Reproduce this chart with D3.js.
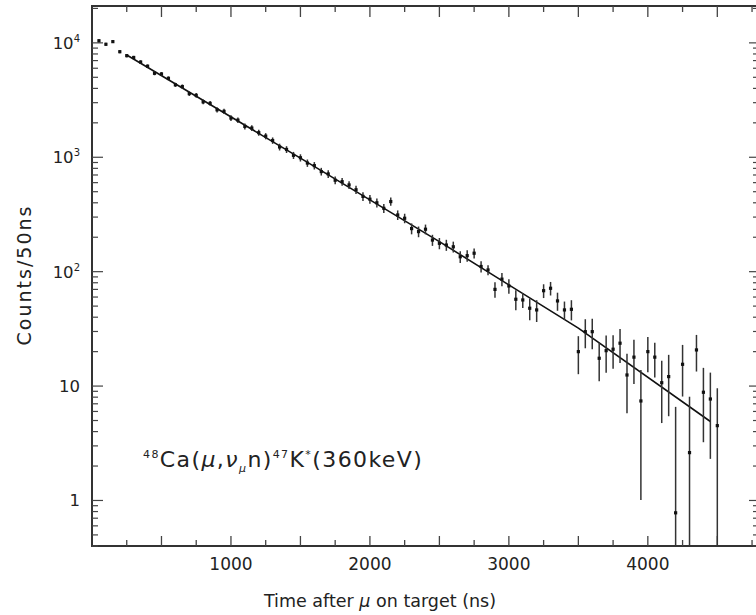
<!DOCTYPE html>
<html>
<head>
<meta charset="utf-8">
<script src="https://cdn.jsdelivr.net/npm/d3@7/dist/d3.min.js"></script>
<style>
  body { margin: 0; background: #fff; }
  text { font-family: "DejaVu Sans", sans-serif; fill: #222; }
</style>
</head>
<body>
<script>
// time bins (ns) and counts per 50 ns
var times = [50, 100, 150, 200, 250, 300, 350, 400, 450, 500,
  550, 600, 650, 700, 750, 800, 850, 900, 950, 1000,
  1050, 1100, 1150, 1200, 1250, 1300, 1350, 1400, 1450, 1500,
  1550, 1600, 1650, 1700, 1750, 1800, 1850, 1900, 1950, 2000,
  2050, 2100, 2150, 2200, 2250, 2300, 2350, 2400, 2450, 2500,
  2550, 2600, 2650, 2700, 2750, 2800, 2850, 2900, 2950, 3000,
  3050, 3100, 3150, 3200, 3250, 3300, 3350, 3400, 3450, 3500,
  3550, 3600, 3650, 3700, 3750, 3800, 3850, 3900, 3950, 4000,
  4050, 4100, 4150, 4200, 4250, 4300, 4350, 4400, 4450, 4500];
var counts = [10440, 9720, 10250, 8370, 7730, 7450, 6800, 6250, 5420, 5350,
  4900, 4300, 4150, 3600, 3480, 3050, 2960, 2600, 2520, 2200,
  2110, 1860, 1800, 1640, 1530, 1400, 1230, 1170, 1040, 990,
  890, 845, 750, 715, 630, 612, 573, 520, 455, 430,
  400, 358, 410, 313, 293, 238, 224, 235, 189, 177,
  171, 165, 135, 138, 145, 111, 103.5, 70, 86, 75,
  57.4, 56.6, 47.9, 46.3, 68.2, 71.6, 55.5, 46.3, 46.9, 20.0,
  29.9, 29.9, 17.5, 20.4, 21.0, 23.7, 12.5, 17.9, 7.41, 20.0,
  17.9, 10.7, 12.1, 0.78, 15.5, 2.62, 20.7, 8.83, 7.71, 4.51];
var errors = [300, 290, 300, 270, 260, 250, 240, 230, 210, 205,
  195, 180, 175, 165, 160, 150, 145, 135, 130, 125,
  120, 110, 105, 100, 95, 90, 84, 80, 74, 72,
  66, 63, 58, 55, 50, 48, 45, 43, 40, 38,
  36, 33, 34, 30, 28, 26, 24, 23, 21, 20,
  19, 18, 16, 16, 14.5, 12.6, 10.5, 10.7, 11.5, 11,
  11.4, 8.4, 10.3, 10, 9.4, 9.7, 10, 8.5, 9.4, 7.3,
  8.5, 8.9, 6.5, 7.3, 6.8, 7.8, 6.7, 7.5, 6.4, 6.8,
  6, 5.95, 6.65, 5.8, 7.4, 5.45, 7.3, 5.6, 5.4, 5.06];

// fitted decay curve
var fitTimes = [250, 1500, 2500, 3500, 4450];
var fitCounts = [7830, 982, 183, 32.1, 4.9];

var xTicks = [1000, 2000, 3000, 4000];
var yTicks = [1, 10, 100, 1000, 10000];
var yTickLabels = [["1", ""], ["10", ""], ["10", "2"], ["10", "3"], ["10", "4"]];

var W = 756, H = 615;
var plotL = 92, plotR = 759, plotT = 6, plotB = 546;

var svg = d3.select('body').append('svg').attr('width', W).attr('height', H);

var x = d3.scaleLinear().domain([0, 4800]).range([plotL, plotR]);
var y = d3.scaleLog().domain([0.4, 21000]).range([plotB, plotT]).clamp(true);

// frame
svg.append('rect')
  .attr('x', plotL).attr('y', plotT)
  .attr('width', plotR - plotL).attr('height', plotB - plotT)
  .attr('fill', 'none').attr('stroke', '#333').attr('stroke-width', 2);

// x ticks, bottom and top, every 250 ns
var xMinor = d3.range(250, 4800, 250);
svg.append('g').selectAll('line')
  .data(xMinor).enter().append('line')
  .attr('x1', function (d) { return x(d); }).attr('x2', function (d) { return x(d); })
  .attr('y1', plotB).attr('y2', function (d) { return plotB - (d % 500 == 0 ? 10 : 6); })
  .attr('stroke', '#444').attr('stroke-width', 1.3);
svg.append('g').selectAll('line')
  .data(xMinor).enter().append('line')
  .attr('x1', function (d) { return x(d); }).attr('x2', function (d) { return x(d); })
  .attr('y1', plotT).attr('y2', function (d) { return plotT + (d % 500 == 0 ? 11 : 6); })
  .attr('stroke', '#444').attr('stroke-width', 1.3);

svg.append('g').selectAll('text')
  .data(xTicks).enter().append('text')
  .attr('x', function (d) { return x(d); })
  .attr('y', 570)
  .attr('text-anchor', 'middle')
  .style('font-size', '17px')
  .text(function (d) { return d; });

// y ticks (log), left and right
var yMinor = [];
[0.1, 1, 10, 100, 1000, 10000].forEach(function (dec) {
  for (var k = 1; k <= 9; k++) {
    var v = dec * k;
    if (v >= 0.4 && v <= 21000) yMinor.push(v);
  }
});
function isMajor(v) { return Math.abs(Math.log10(v) - Math.round(Math.log10(v))) < 1e-9; }

svg.append('g').selectAll('line')
  .data(yMinor).enter().append('line')
  .attr('x1', plotL).attr('x2', function (d) { return plotL + (isMajor(d) ? 11 : 6); })
  .attr('y1', function (d) { return y(d); }).attr('y2', function (d) { return y(d); })
  .attr('stroke', '#444').attr('stroke-width', 1.2);
svg.append('g').selectAll('line')
  .data(yMinor).enter().append('line')
  .attr('x1', plotR).attr('x2', function (d) { return plotR - (isMajor(d) ? 10 : 6); })
  .attr('y1', function (d) { return y(d); }).attr('y2', function (d) { return y(d); })
  .attr('stroke', '#444').attr('stroke-width', 1.2);

var yLab = svg.append('g').selectAll('text')
  .data(yTicks).enter().append('text')
  .attr('x', 80)
  .attr('y', function (d) { return y(d) + 6; })
  .attr('text-anchor', 'end')
  .style('font-size', '16.5px');
yLab.append('tspan').text(function (d, i) { return yTickLabels[i][0]; });
yLab.append('tspan')
  .attr('dy', -7)
  .style('font-size', '10px')
  .text(function (d, i) { return yTickLabels[i][1]; });

// fit curve
var line = d3.line()
  .x(function (d) { return x(d[0]); })
  .y(function (d) { return y(d[1]); });
svg.append('path')
  .datum(fitTimes.map(function (t, i) { return [t, fitCounts[i]]; }))
  .attr('d', line)
  .attr('fill', 'none').attr('stroke', '#111').attr('stroke-width', 1.6);

// data points with error bars
var pts = times.map(function (t, i) { return { t: t, v: counts[i], e: errors[i] }; });
var plot = svg.append('g');
plot.selectAll('.err')
  .data(pts).enter().append('line')
  .attr('class', 'err')
  .attr('x1', function (d) { return x(d.t); }).attr('x2', function (d) { return x(d.t); })
  .attr('y1', function (d) { return y(d.v + d.e); })
  .attr('y2', function (d) { return d.v - d.e > 0 ? y(d.v - d.e) : plotB; })
  .attr('stroke', '#333').attr('stroke-width', 1.5);
plot.selectAll('.pt')
  .data(pts).enter().append('rect')
  .attr('class', 'pt')
  .attr('x', function (d) { return x(d.t) - 1.6; })
  .attr('y', function (d) { return y(d.v) - 1.6; })
  .attr('width', 3.2).attr('height', 3.2)
  .attr('fill', '#111');

// reaction label
var note = svg.append('text')
  .attr('x', 143).attr('y', 467)
  .style('font-size', '22px')
  .style('letter-spacing', '1.4px');
note.append('tspan').attr('dy', -9).style('font-size', '11px').text('48');
note.append('tspan').attr('dy', 9).text('Ca(');
note.append('tspan').style('font-style', 'italic').text('μ');
note.append('tspan').text(',');
note.append('tspan').style('font-style', 'italic').text('ν');
note.append('tspan').attr('dy', 5).style('font-size', '11px').style('font-style', 'italic').text('μ');
note.append('tspan').attr('dy', -5).text('n)');
note.append('tspan').attr('dy', -9).style('font-size', '11px').text('47');
note.append('tspan').attr('dy', 9).text('K');
note.append('tspan').attr('dy', -9).style('font-size', '11px').text('*');
note.append('tspan').attr('dy', 9).text('(360keV)');

// axis titles
var xt = svg.append('text')
  .attr('x', 380).attr('y', 607)
  .attr('text-anchor', 'middle')
  .style('font-size', '17.5px');
xt.append('tspan').text('Time after ');
xt.append('tspan').style('font-style', 'italic').text('μ');
xt.append('tspan').text(' on target (ns)');

svg.append('text')
  .attr('transform', 'translate(31, 275) rotate(-90)')
  .attr('text-anchor', 'middle')
  .style('font-size', '19px')
  .style('letter-spacing', '2px')
  .text('Counts/50ns');
</script>
</body>
</html>
